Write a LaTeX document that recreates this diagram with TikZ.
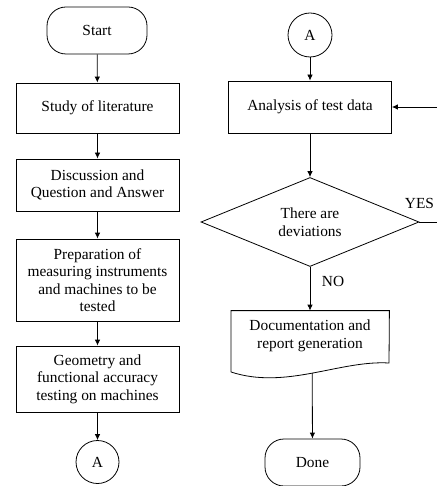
\documentclass[tikz,border=0pt]{standalone}
\usepackage{fontspec}
\setmainfont{Liberation Serif}
\usetikzlibrary{shapes.geometric, arrows.meta}

\begin{document}
\begin{tikzpicture}[x=1pt, y=-1pt, line width=0.8pt,
        font=\fontsize{15.4}{17.5}\selectfont,
        procbox/.style={draw, rectangle, align=center, minimum width=163pt, inner sep=0pt},
        termbox/.style={draw, rectangle, rounded corners=19pt, minimum height=47pt},
        connbox/.style={draw, circle, minimum size=43pt, inner sep=0pt},
        flow/.style={-{Latex[length=6pt,width=5.5pt]}}]

        \useasboundingbox (0,0) rectangle (436,486);

        % Left column
        \node[termbox, minimum width=100pt] (start) at (97,30.5) {Start};
        \node[procbox, minimum height=50pt] (study) at (97.5,108) {Study of literature};
        \node[procbox, minimum height=52pt] (discuss) at (97.5,185) {Discussion and\\Question and Answer};
        \node[procbox, minimum height=82pt] (prep) at (97.5,280) {Preparation of\\measuring instruments\\and machines to be\\tested};
        \node[procbox, minimum height=66pt] (geom) at (97.5,379) {Geometry and\\functional accuracy\\testing on machines};
        \node[connbox] (conA) at (97.5,462) {A};

        % Right column
        \node[connbox, minimum size=44pt] (conB) at (310,35) {A};
        \node[procbox, minimum height=52pt] (analysis) at (310,107) {Analysis of test data};
        \node[draw, diamond, aspect=2.45, minimum width=218pt, minimum height=89pt,
            inner sep=0pt, align=center] (dev) at (310,222) {There are\\deviations};
        \node[align=center, minimum width=158pt, minimum height=50pt, inner sep=0pt] (doc) at (310,336) {Documentation and\\report generation};
        \node[termbox, minimum width=95pt] (done) at (312.5,462.5) {Done};

        % Document outline with wavy bottom
        \coordinate (docL) at (231,372);
        \coordinate (docR) at (389,363);
        \draw (docL) |- (doc.north east) -- (docR)
            .. controls (340,360) and (286,390) .. (docL) coordinate[pos=0.5] (docbot);

        % Connectors
        \draw[flow] (start) -- (study);
        \draw[flow] (study) -- (discuss);
        \draw[flow] (discuss) -- (prep);
        \draw[flow] (prep) -- (geom);
        \draw[flow] (geom) -- (conA);
        \draw[flow] (conB) -- (analysis);
        \draw[flow] (analysis) -- (dev);
        \draw[flow] (dev) -- (doc.north);
        \draw[flow] (docbot) -- (done);

        % Loop back on YES
        \coordinate (loop) at (450,222);
        \draw[flow] (dev.east) -- (loop) |- (analysis.east);

        % Branch labels
        \node (no) at (333,281) {NO};
        \node (yes) at (419.5,203) {YES};
    \end{tikzpicture}
\end{document}
